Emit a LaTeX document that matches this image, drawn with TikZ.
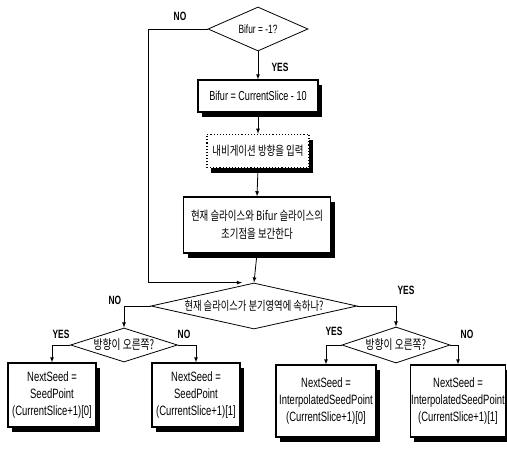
\documentclass[tikz,border=0pt]{standalone}
\usepackage{fontspec}
\setmainfont{Liberation Sans}[FakeStretch=0.7]
\newfontfamily\kr{Noto Sans CJK KR}[FakeStretch=0.75]
\usetikzlibrary{shapes.geometric,shadows}
\begin{document}
\begin{tikzpicture}[x=1pt, y=-1pt, line width=0.8pt, >=latex,
    decision/.style={diamond, draw, fill=white, inner sep=0pt},
    process/.style={rectangle, draw, fill=white, align=center, inner sep=1pt, line width=1.1pt,
        drop shadow={shadow xshift=4pt, shadow yshift=-5pt, fill=black, opacity=1}},
    answer/.style={font=\fontsize{12}{14}\selectfont\bfseries},
    krtext/.style={font=\kr\fontsize{12.6}{18}\selectfont},
    seedtext/.style={font=\fontsize{13.5}{17}\selectfont}]
    \useasboundingbox (0,0) rectangle (507,455);
    \node[decision, minimum width=100pt, minimum height=44pt, font=\fontsize{12}{14}\selectfont] (bifurTest) at (258,29) {\makebox[0pt]{Bifur = -1?}};
    \node[process, minimum width=120pt, minimum height=32pt, font=\fontsize{13}{14}\selectfont] (setBifur) at (258,96) {Bifur = CurrentSlice - 10};
    \node[process, dotted, line width=1.4pt, minimum width=102pt, minimum height=33pt, krtext] (navInput) at (258,151) {내비게이션 방향을 입력};
    \node[process, minimum width=147pt, minimum height=56pt, krtext] (interp) at (257,225) {현재 슬라이스와 Bifur 슬라이스의\\초기점을 보간한다};
    \node[decision, minimum width=206pt, minimum height=46pt, font=\kr\fontsize{12.4}{14}\selectfont] (inRegion) at (254,306) {\makebox[0pt]{현재 슬라이스가 분기영역에 속하나?}};
    \node[decision, minimum width=107pt, minimum height=34pt, font=\kr\fontsize{13}{15}\selectfont] (dirLeft) at (124,345) {\makebox[0pt]{방향이 오른쪽?}};
    \node[decision, minimum width=108pt, minimum height=36pt, font=\kr\fontsize{13}{15}\selectfont] (dirRight) at (396,345) {\makebox[0pt]{방향이 오른쪽?}};
    \node[process, minimum width=88pt, minimum height=64pt, seedtext] (seedL0) at (52,395) {NextSeed =\\SeedPoint\\(CurrentSlice+1)[0]};
    \node[process, minimum width=88pt, minimum height=64pt, seedtext] (seedL1) at (196,395) {NextSeed =\\SeedPoint\\(CurrentSlice+1)[1]};
    \node[process, minimum width=100pt, minimum height=72pt, seedtext] (seedR0) at (326,401) {NextSeed =\\InterpolatedSeedPoint\\(CurrentSlice+1)[0]};
    \node[process, minimum width=90pt, minimum height=72pt, seedtext] (seedR1) at (458,401) {NextSeed =\\InterpolatedSeedPoint\\(CurrentSlice+1)[1]};
    \draw[->] (bifurTest.south) -- (setBifur.north);
    \draw[->] (setBifur.south) -- (navInput.north);
    \draw[->] (navInput.south) -- (interp.north);
    \draw[->] (interp.south) -- (inRegion.north);
    \draw[->] (bifurTest.west) -- ++(-59,0) |- ([xshift=-12pt]inRegion.north);
    \draw[->] (inRegion.west) -| (dirLeft.north);
    \draw[->] (inRegion.east) -| (dirRight.north);
    \draw[->] (dirLeft.west) -| (seedL0.north);
    \draw[->] (dirLeft.east) -| (seedL1.north);
    \draw[->] (dirRight.west) -| (seedR0.north);
    \draw[->] (dirRight.east) -| (seedR1.north);
    \node[answer] (noTop) at (180,16) {NO};
    \node[answer] (yesTop) at (280,67) {YES};
    \node[answer, anchor=east] (noRegion) at (125,300) {NO};
    \node[answer] (yesRegion) at (406,290) {YES};
    \node[answer] (yesLeft) at (61,334) {YES};
    \node[answer] (noLeft) at (184,334) {NO};
    \node[answer] (yesRight) at (334,331) {YES};
    \node[answer] (noRight) at (467,334) {NO};
\end{tikzpicture}
\end{document}
